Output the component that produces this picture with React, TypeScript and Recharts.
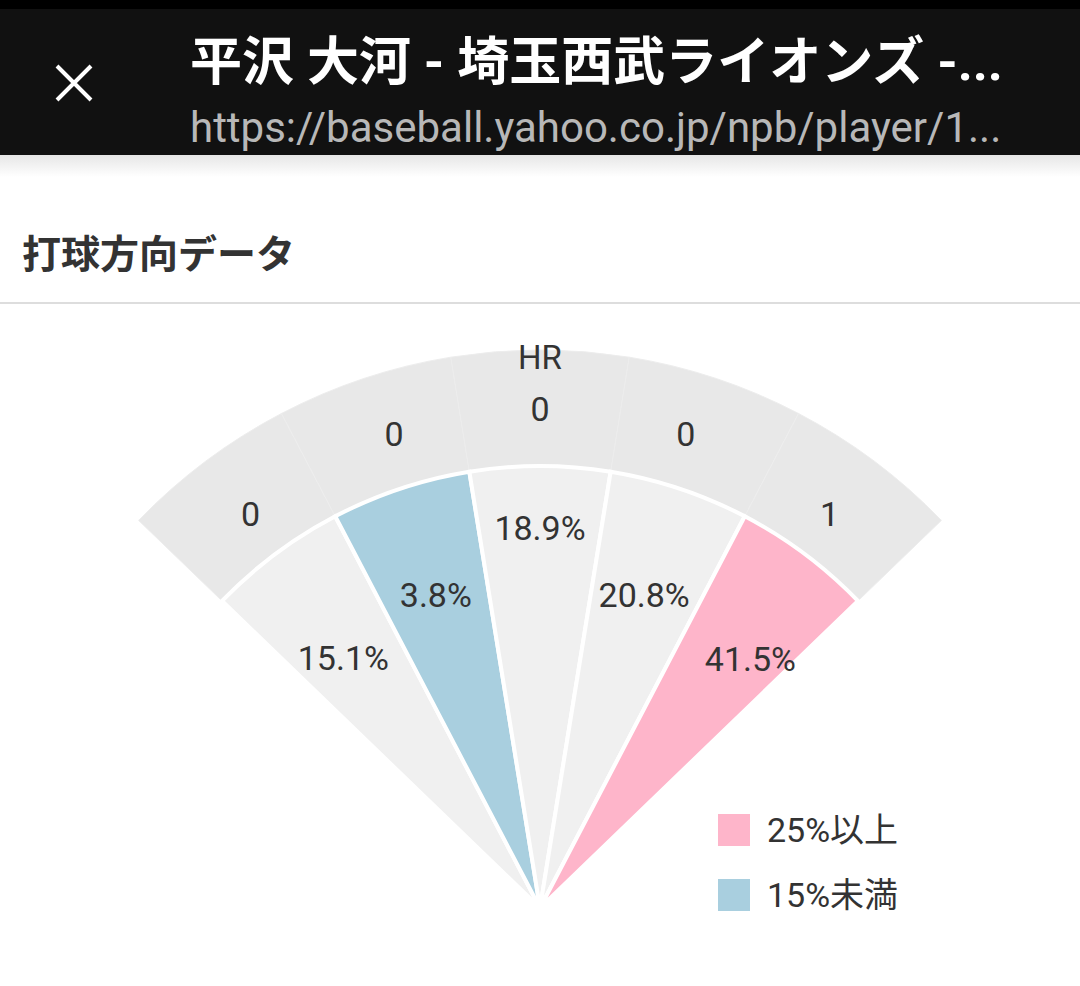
import { Cell, Pie, PieChart } from "recharts";

const directions = ["left", "left-center", "center", "right-center", "right"];
const hitShare = [15.1, 3.8, 18.9, 20.8, 41.5];
const homeRuns = [0, 0, 0, 0, 1];
const legendItems = ["25%以上", "15%未満"];

const PINK = "#feb5ca";
const BLUE = "#a9cfdf";
const GRAY = "#f0f0f0";
const RING = "#e8e8e8";
const INK = "#333333";
const FONT = "Roboto, 'Noto Sans CJK JP', sans-serif";
const RADIAN = Math.PI / 180;

const innerData = directions.map((d, i) => ({ dir: d, span: 1, share: hitShare[i] }));
const outerData = directions.map((d, i) => ({ dir: d, span: 1, hr: homeRuns[i] }));

const shareColor = (v: number) => (v >= 25 ? PINK : v < 15 ? BLUE : GRAY);

// small nudges so labels sit where the original puts them
const shareNudge = [1.4, 0, 0, 0, -3.4];
const hrNudge = [-0.5, -1.3, 0, 1.3, 0.5];

function ShareLabel(props: any) {
  const { cx, cy, midAngle, index } = props;
  const r = index === 2 ? 380 : index === 0 ? 318 : index === 4 ? 326 : 330;
  const a = (midAngle + shareNudge[index]) * RADIAN;
  return (
    <text
      x={cx + r * Math.cos(a)}
      y={cy - r * Math.sin(a)}
      textAnchor="middle"
      dominantBaseline="central"
      fill={INK}
      fontSize={34}
      fontFamily={FONT}
    >
      {hitShare[index].toFixed(1)}%
    </text>
  );
}

function HrLabel(props: any) {
  const { cx, cy, midAngle, index } = props;
  const r = index === 2 ? 499 : index === 0 || index === 4 ? 489 : 496;
  const a = (midAngle + hrNudge[index]) * RADIAN;
  return (
    <g>
      <text
        x={cx + r * Math.cos(a)}
        y={cy - r * Math.sin(a)}
        textAnchor="middle"
        dominantBaseline="central"
        fill={INK}
        fontSize={34}
        fontFamily={FONT}
      >
        {homeRuns[index]}
      </text>
      {index === 2 && (
        <text
          x={cx}
          y={cy - 551}
          textAnchor="middle"
          dominantBaseline="central"
          fill={INK}
          fontSize={33}
          fontFamily={FONT}
        >
          HR
        </text>
      )}
    </g>
  );
}

export default function App() {
  return (
    <div
      style={{
        position: "absolute",
        left: 0,
        top: 0,
        width: 1080,
        height: 986,
        background: "#fff",
        overflow: "hidden",
        fontFamily: FONT,
      }}
    >
      {/* browser header */}
      <div style={{ position: "absolute", left: 0, top: 0, width: 1080, height: 9, background: "#000" }} />
      <div style={{ position: "absolute", left: 0, top: 9, width: 1080, height: 146, background: "#111" }} />
      <div
        style={{
          position: "absolute",
          left: 0,
          top: 155,
          width: 1080,
          height: 22,
          background: "linear-gradient(#e6e6e6, rgba(255,255,255,0))",
        }}
      />
      <svg style={{ position: "absolute", left: 55, top: 64 }} width={38} height={38}>
        <path d="M2 2 L36 36 M36 2 L2 36" stroke="#fff" strokeWidth={4} />
      </svg>
      <div
        style={{
          position: "absolute",
          left: 190,
          top: 33,
          color: "#fff",
          fontSize: 52,
          fontWeight: 700,
          whiteSpace: "nowrap",
          lineHeight: "60px",
        }}
      >
        平沢 大河 - 埼玉西武ライオンズ -...
      </div>
      <div
        style={{
          position: "absolute",
          left: 190,
          top: 104,
          color: "#b8b8b8",
          fontSize: 42,
          whiteSpace: "nowrap",
          lineHeight: "48px",
        }}
      >
        https://baseball.yahoo.co.jp/npb/player/1...
      </div>

      {/* section title */}
      <div
        style={{
          position: "absolute",
          left: 22,
          top: 232,
          color: INK,
          fontSize: 39,
          fontWeight: 700,
          lineHeight: "46px",
        }}
      >
        打球方向データ
      </div>
      <div style={{ position: "absolute", left: 0, top: 302, width: 1080, height: 2, background: "#dddddd" }} />

      <div style={{ position: "absolute", left: 0, top: 0 }}>
        <PieChart width={1080} height={986} margin={{ top: 0, right: 0, bottom: 0, left: 0 }}>
          <Pie
            data={outerData}
            dataKey="span"
            cx={540}
            cy={908}
            startAngle={136}
            endAngle={44}
            innerRadius={440}
            outerRadius={558}
            stroke="#ededed"
            strokeWidth={1}
            label={HrLabel}
            labelLine={false}
            isAnimationActive={false}
          >
            {outerData.map((d) => (
              <Cell key={d.dir} fill={RING} />
            ))}
          </Pie>
          <Pie
            data={innerData}
            dataKey="span"
            cx={540}
            cy={908}
            startAngle={136}
            endAngle={44}
            innerRadius={0}
            outerRadius={442}
            stroke="#ffffff"
            strokeWidth={4}
            label={ShareLabel}
            labelLine={false}
            isAnimationActive={false}
          >
            {innerData.map((d) => (
              <Cell key={d.dir} fill={shareColor(d.share)} />
            ))}
          </Pie>
        </PieChart>
      </div>

      {/* legend */}
      {legendItems.map((item, i) => (
        <div
          key={item}
          style={{ position: "absolute", left: 718, top: 814 + i * 65, display: "flex", alignItems: "center" }}
        >
          <div style={{ width: 32, height: 32, background: i === 0 ? PINK : BLUE }} />
          <span style={{ marginLeft: 17, fontSize: 34, color: INK, lineHeight: "32px" }}>{item}</span>
        </div>
      ))}
    </div>
  );
}
